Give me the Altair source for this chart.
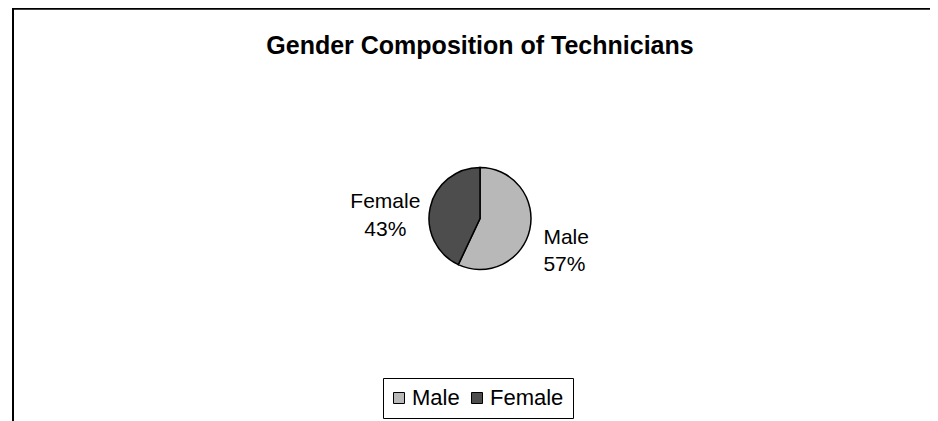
import altair as alt
import pandas as pd

# ---- data ----
genders = ["Male", "Female"]
shares = [57, 43]
colors = ["#b8b8b8", "#4d4d4d"]
title_text = "Gender Composition of Technicians"

df = pd.DataFrame({"gender": genders, "share": shares})

FONT = "Liberation Sans, Arial, sans-serif"

base = (
    alt.Chart(df)
    .transform_window(idx="row_number()")
    .transform_calculate(label="datum.gender + '\\n' + datum.share + '%'")
)

color_enc = alt.Color(
    "gender:N",
    sort=genders,
    scale=alt.Scale(domain=genders, range=colors),
    legend=alt.Legend(
        orient="none",
        legendX=353,
        legendY=320,
        direction="horizontal",
        title=None,
        symbolType="square",
        symbolSize=121,
        symbolStrokeColor="black",
        symbolStrokeWidth=1,
        symbolOpacity=1,
        symbolOffset=-4,
        labelFont=FONT,
        labelFontSize=22,
        labelColor="black",
        labelOffset=2,
        columnPadding=9,
        padding=9,
        strokeColor="black",
        fillColor="white",
    ),
)

theta_enc = alt.Theta("share:Q", stack=True)
order_enc = alt.Order("idx:Q")

pie = base.mark_arc(outerRadius=51, stroke="black", strokeWidth=1.5).encode(
    theta=theta_enc, color=color_enc, order=order_enc
)

female_lbl = (
    base.mark_text(
        radius=97, align="center", baseline="middle", dy=5,
        font=FONT, fontSize=21, color="black", lineBreak="\n", lineHeight=27.5,
    )
    .encode(
        theta=theta_enc,
        order=order_enc,
        text="label:N",
        opacity=alt.condition(alt.datum.gender == "Female", alt.value(1), alt.value(0)),
    )
)
male_lbl = (
    base.mark_text(
        radius=65, align="left", baseline="middle", dy=5,
        font=FONT, fontSize=21, color="black", lineBreak="\n", lineHeight=27.5,
    )
    .encode(
        theta=theta_enc,
        order=order_enc,
        text="label:N",
        opacity=alt.condition(alt.datum.gender == "Male", alt.value(1), alt.value(0)),
    )
)

top_border = base.mark_rule(color="black", strokeWidth=2).encode(
    x=alt.value(-17), x2=alt.value(910), y=alt.value(-49.5)
)
left_border = base.mark_rule(color="black", strokeWidth=2).encode(
    x=alt.value(-17), y=alt.value(-50), y2=alt.value(365)
)

chart = (
    alt.layer(pie, female_lbl, male_lbl, top_border, left_border)
    .properties(
        width=900,
        height=321,
        padding={"left": 22, "top": 50, "right": 0, "bottom": 42},
        autosize=alt.AutoSizeParams(type="none"),
        title=alt.TitleParams(
            title_text,
            anchor="middle",
            frame="group",
            baseline="alphabetic",
            offset=5,
            dy=77,
            font=FONT,
            fontSize=25,
            fontWeight="bold",
            color="black",
        ),
        background="white",
    )
    .configure_view(strokeWidth=0)
)

chart.save("out.html", embed_options={"renderer": "svg", "actions": False})
